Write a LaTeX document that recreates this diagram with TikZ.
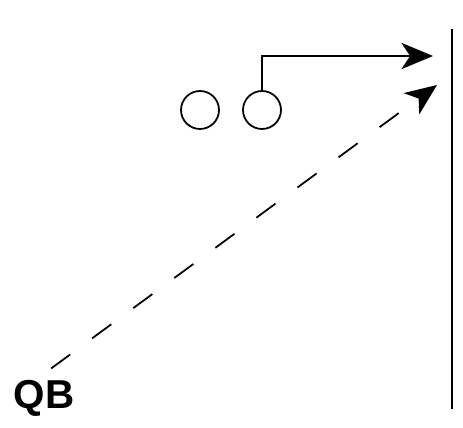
\documentclass[tikz,border=0pt]{standalone}
\usepackage{fontspec}
\setsansfont{Liberation Sans}
\usetikzlibrary{arrows.meta}

\begin{document}
\begin{tikzpicture}[
      x=0.02cm, y=-0.02cm,
      every node/.style={font=\sffamily},
      player/.style={circle, draw, line width=1pt, minimum size=0.76cm, inner sep=0pt},
      route/.style={line width=1pt, -{Stealth[length=18pt, width=15pt, inset=5pt]}},
      pass/.style={route, dash pattern=on 13.5pt off 15.5pt},
      wall/.style={line width=1.1pt}
    ]
    \useasboundingbox (0,0) rectangle (463,428);

    % players on the line
    \node[player] (p1) at (200,110) {};
    \node[player] (p2) at (262,110) {};
    \node[font=\sffamily\bfseries\fontsize{23}{26}\selectfont] (qb) at (44,398) {QB};

    % sideline
    \coordinate (walltop) at (452,29);
    \coordinate (wallbot) at (452,409);
    \draw[wall] (walltop) -- (wallbot);

    % routes
    \coordinate (turn) at (262,56);
    \coordinate (rtend) at (433,56);
    \coordinate (passend) at (437,85);
    \draw[route] (p2.north) -- (turn) -- (rtend);
    \draw[pass, shorten <=5pt] (qb.north) -- (passend);
\end{tikzpicture}
\end{document}
